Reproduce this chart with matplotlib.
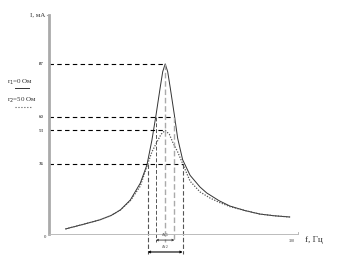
import matplotlib.pyplot as plt

plt.rcParams['font.family'] = ['Liberation Serif', 'DejaVu Serif']

# частоты, Гц, и ток, мА
f_r1 = [20, 40, 61, 75, 86, 98, 110, 118, 124, 129, 134, 137, 140,
        143, 146, 151, 155, 161, 170, 182, 190, 205, 218, 236, 254, 272, 290]
i_r1 = [2.6, 4.8, 7.2, 9.5, 12.3, 17.4, 26, 35.3, 48, 61, 75, 83, 87,
        83, 75, 61, 49, 38, 30, 24, 21, 17, 14.3, 12, 10.2, 9.3, 8.7]

f_r2 = [20, 40, 61, 75, 86, 98, 110, 119, 124, 130, 135, 140, 145,
        149, 155, 161, 170, 182, 194, 205, 218, 236, 254, 272, 290]
i_r2 = [2.6, 4.8, 7.2, 9.5, 12.3, 17.0, 24.5, 36, 42, 47, 51, 53, 51,
        47, 42, 36, 27, 21.5, 18.4, 16.2, 14, 12, 10.2, 9.3, 8.7]

f0 = 140
df1 = [129, 151]
df2 = [119, 161]
levels = [87, 60, 53, 36]
level_ends = [140, 151, 140, 161]

fig = plt.figure(figsize=(3.41, 2.57), dpi=100)
ax = fig.add_axes([49 / 341, 23 / 257, 249 / 341, 219 / 257])
ax.set_xlim(0, 300)
ax.set_ylim(0, 112)

for s in ['top', 'right']:
    ax.spines[s].set_visible(False)
ax.spines['left'].set_color('#aaaaaa')
ax.spines['left'].set_linewidth(2)
ax.spines['bottom'].set_color('#bbbbbb')
ax.spines['bottom'].set_linewidth(0.7)
ax.set_xticks([])
ax.set_yticks(levels)
ax.set_yticklabels([str(v) for v in levels], fontsize=3.5)
ax.tick_params(axis='y', length=0, pad=4)

# кривые
ax.plot(f_r1, i_r1, color='#333333', lw=0.7)
ax.plot(f_r2, i_r2, color='#555555', lw=0.9, ls=(0, (1, 1.2)))

# горизонтальные уровни
for lv, xe in zip(levels, level_ends):
    ax.plot([0, xe], [lv, lv], color='black', lw=0.8, ls=(0, (4, 3)))

# вертикальные линии
ax.plot([f0, f0], [87, -4], color='#aaaaaa', lw=1, ls=(0, (4, 2)), clip_on=False)
ax.plot([df1[0], df1[0]], [60, -4], color='#555555', lw=0.7, ls=(0, (4, 2)), clip_on=False)
ax.plot([df1[1], df1[1]], [60, -4], color='#aaaaaa', lw=1, ls=(0, (4, 2)), clip_on=False)
ax.plot([df2[0], df2[0]], [36, -10], color='#555555', lw=0.8, ls=(0, (4, 2)), clip_on=False)
ax.plot([df2[1], df2[1]], [36, -10], color='#555555', lw=0.8, ls=(0, (4, 2)), clip_on=False)

# стрелки полос пропускания
ax.annotate('', xy=(df1[0], -3.1), xytext=(df1[1], -3.1), annotation_clip=False,
            arrowprops=dict(arrowstyle='<->', lw=0.6, color='#333333',
                            mutation_scale=3, shrinkA=0, shrinkB=0))
ax.annotate('', xy=(df2[0], -9.2), xytext=(df2[1], -9.2), annotation_clip=False,
            arrowprops=dict(arrowstyle='<->', lw=0.8, color='black',
                            mutation_scale=3, shrinkA=0, shrinkB=0))
ax.text(f0, -2.4, 'Δf$_1$', fontsize=3, ha='center', va='bottom', color='#333333')
ax.text(f0, -8.6, 'Δf$_2$', fontsize=3, ha='center', va='bottom', color='#333333')

# подписи осей
ax.text(-4, 112, 'I, мА', fontsize=5, ha='right', va='center', color='#333333')
ax.plot([0, -2], [112, 112], color='#aaaaaa', lw=0.8, clip_on=False)
ax.text(309, -3, 'f, Гц', fontsize=6.5, ha='left', va='center', color='#333333')
ax.plot([300, 300], [0, 1.2], color='#aaaaaa', lw=0.6, clip_on=False)
ax.text(293, -3.6, '300', fontsize=3, ha='center', va='center', color='#333333')
ax.text(-5, -1.6, '0', fontsize=3.5, ha='center', va='center', color='#333333')

# легенда
fig.text(7 / 341, 1 - 82 / 257, 'r$_1$=0 Ом', fontsize=5, va='center', color='#333333')
fig.add_artist(plt.Line2D([15 / 341, 29 / 341], [1 - 88 / 257, 1 - 88 / 257],
                          color='#333333', lw=0.7))
fig.text(7 / 341, 1 - 100 / 257, 'r$_2$=50 Ом', fontsize=5, va='center', color='#333333')
fig.add_artist(plt.Line2D([15 / 341, 31 / 341], [1 - 107 / 257, 1 - 107 / 257],
                          color='#555555', lw=0.8, ls=':'))

fig.savefig('out.png', dpi=100)
